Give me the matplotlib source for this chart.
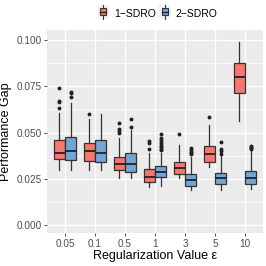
import matplotlib
matplotlib.use("Agg")
import matplotlib.pyplot as plt
from matplotlib.patches import Rectangle
from matplotlib.lines import Line2D
from matplotlib.legend_handler import HandlerBase
import numpy as np

plt.rcParams['font.family'] = ['Liberation Sans', 'DejaVu Sans']

categories = ["0.05", "0.1", "0.5", "1", "3", "5", "10"]
series = ["1\u2212SDRO", "2\u2212SDRO"]

# 1-SDRO box statistics
s1_whislo = [0.0297, 0.0297, 0.0252, 0.0207, 0.0252, 0.0312, 0.0564]
s1_q1     = [0.0357, 0.0344, 0.0295, 0.0231, 0.0276, 0.0342, 0.0715]
s1_med    = [0.0391, 0.0402, 0.0328, 0.0258, 0.0306, 0.0384, 0.0798]
s1_q3     = [0.0459, 0.0441, 0.0369, 0.0303, 0.0342, 0.0429, 0.0874]
s1_whishi = [0.0604, 0.0571, 0.0468, 0.0387, 0.0432, 0.0540, 0.0991]
s1_fliers = [[0.0739, 0.0672, 0.0663, 0.0634],
             [0.0598],
             [0.0550, 0.0519, 0.0510, 0.0496],
             [0.0454, 0.0442, 0.0411],
             [0.0492],
             [0.0582],
             []]

# 2-SDRO box statistics
s2_whislo = [0.0297, 0.0297, 0.0256, 0.0213, 0.0189, 0.0189, 0.0195]
s2_q1     = [0.0351, 0.0339, 0.0288, 0.0258, 0.0213, 0.0220, 0.0222]
s2_med    = [0.0400, 0.0387, 0.0330, 0.0288, 0.0243, 0.0256, 0.0252]
s2_q3     = [0.0477, 0.0458, 0.0387, 0.0319, 0.0276, 0.0283, 0.0294]
s2_whishi = [0.0661, 0.0598, 0.0514, 0.0387, 0.0369, 0.0373, 0.0402]
s2_fliers = [[0.0721, 0.0712, 0.0694],
             [],
             [0.0571, 0.0532],
             [0.0490, 0.0470, 0.0459, 0.0450, 0.0440, 0.0430, 0.0420, 0.0411, 0.0405],
             [0.0414, 0.0405, 0.0397, 0.0390, 0.0382],
             [0.0447, 0.0411, 0.0402, 0.0384],
             [0.0427, 0.0420, 0.0414, 0.0409]]

colors = ["#F8766D", "#72A6D4"]
edge = "#333333"

fig = plt.figure(figsize=(2.66, 2.66), dpi=100)
ax = fig.add_axes([0.177, 0.124, 0.812, 0.763])
ax.set_facecolor("#EBEBEB")

def make_stats(wl, q1, med, q3, wh, fl):
    return [dict(whislo=a, q1=b, med=c, q3=d, whishi=e, fliers=f)
            for a, b, c, d, e, f in zip(wl, q1, med, q3, wh, fl)]

pos = np.arange(1, len(categories) + 1)
off = 0.1875
width = 0.35
for k, (stats, col) in enumerate([
        (make_stats(s1_whislo, s1_q1, s1_med, s1_q3, s1_whishi, s1_fliers), colors[0]),
        (make_stats(s2_whislo, s2_q1, s2_med, s2_q3, s2_whishi, s2_fliers), colors[1])]):
    p = pos + (-off if k == 0 else off)
    ax.bxp(stats, positions=p, widths=width, patch_artist=True, showcaps=False,
           boxprops=dict(facecolor=col, edgecolor=edge, linewidth=0.9),
           whiskerprops=dict(color=edge, linewidth=0.9),
           medianprops=dict(color="#222222", linewidth=1.3),
           flierprops=dict(marker='o', markersize=1.8, markerfacecolor='#222222',
                           markeredgecolor='#222222', linestyle='none'),
           manage_ticks=False, zorder=3)

ax.set_xlim(0.4, len(categories) + 0.6)
ax.set_ylim(-0.0043, 0.1054)
ax.set_xticks(pos)
ax.set_xticklabels(categories)
yt = [0.0, 0.025, 0.05, 0.075, 0.1]
ax.set_yticks(yt)
ax.set_yticklabels(["0.000", "0.025", "0.050", "0.075", "0.100"])
ax.set_yticks([0.0125, 0.0375, 0.0625, 0.0875], minor=True)
ax.grid(True, which='major', color='white', linewidth=1.0, zorder=0)
ax.grid(True, which='minor', axis='y', color='white', linewidth=0.5, zorder=0)
ax.set_axisbelow(True)
for s in ax.spines.values():
    s.set_visible(False)
ax.tick_params(axis='both', which='major', colors='#333333', length=2.5, width=0.6,
               labelsize=7.2, labelcolor='#4D4D4D', pad=1.5)
ax.tick_params(axis='both', which='minor', length=0)
ax.set_xlabel("Regularization Value \u03b5", fontsize=9, labelpad=1, color='black')
ax.set_ylabel("Performance Gap", fontsize=9, labelpad=3, color='black')


class BoxHandler(HandlerBase):
    def create_artists(self, legend, orig_handle, xd, yd, width, height, fontsize, trans):
        col = orig_handle.get_facecolor()
        bg = Rectangle((xd - 1, yd - 2), width + 2, height + 4, facecolor='#F2F2F2',
                       edgecolor='none', transform=trans)
        cx = xd + width / 2
        bw = width * 0.75
        line = Line2D([cx, cx], [yd - 2, yd + height + 2], color=edge, linewidth=0.8,
                      transform=trans)
        box = Rectangle((cx - bw / 2, yd + height * 0.1), bw, height * 0.8,
                        facecolor=col, edgecolor=edge, linewidth=0.8, transform=trans)
        med = Line2D([cx - bw / 2, cx + bw / 2], [yd + height / 2] * 2, color='#222222',
                     linewidth=1.0, transform=trans)
        return [bg, line, box, med]

handles = [Rectangle((0, 0), 1, 1, facecolor=c) for c in colors]
fig.legend(handles, series, handler_map={Rectangle: BoxHandler()},
           loc='center', bbox_to_anchor=(0.595, 0.948), ncol=2, frameon=False,
           fontsize=7.5, handlelength=0.8, handleheight=0.9, handletextpad=0.6,
           columnspacing=0.5, borderpad=0.1)

fig.savefig("out.png", dpi=100)
